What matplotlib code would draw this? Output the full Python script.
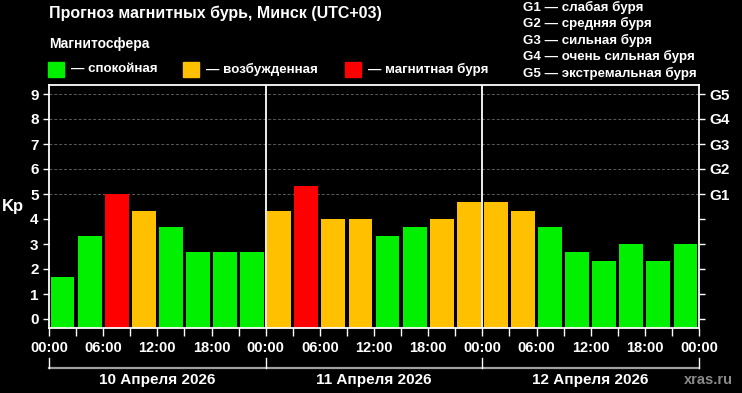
import matplotlib
matplotlib.use("Agg")
import matplotlib.pyplot as plt
import matplotlib.transforms as mtransforms
from matplotlib.patches import Rectangle

# Kp forecast, 3-hour slots, three days
kp_day1 = [1.67, 3.33, 5.00, 4.33, 3.67, 2.67, 2.67, 2.67]
kp_day2 = [4.33, 5.33, 4.00, 4.00, 3.33, 3.67, 4.00, 4.67]
kp_day3 = [4.67, 4.33, 3.67, 2.67, 2.33, 3.00, 2.33, 3.00]
kp = kp_day1 + kp_day2 + kp_day3

dates = ["10 Апреля 2026", "11 Апреля 2026", "12 Апреля 2026"]
hour_labels = ["00:00", "06:00", "12:00", "18:00"] * 3 + ["00:00"]
g_labels = ["G1", "G2", "G3", "G4", "G5"]
g_legend = ["G1 — слабая буря", "G2 — средняя буря", "G3 — сильная буря",
            "G4 — очень сильная буря", "G5 — экстремальная буря"]

GREEN, ORANGE, RED = "#00f000", "#ffc000", "#ff0000"


def kp_color(v):
    if v >= 5:
        return RED
    if v >= 4:
        return ORANGE
    return GREEN


plt.rcParams["font.family"] = ["Liberation Sans", "DejaVu Sans"]
plt.rcParams["font.weight"] = "bold"

fig = plt.figure(figsize=(7.42, 3.93), dpi=100, facecolor="black")
ax = fig.add_axes([49 / 742, 1 - 328 / 393, 650 / 742, 243 / 393])
ax.set_facecolor("black")

ymin, ymax = -0.36, 9.36
ax.set_xlim(0, 24)
ax.set_ylim(ymin, ymax)

# grid only at the storm levels
for g in range(5, 10):
    ax.axhline(g, color="#5a5a5a", lw=0.7, ls=(0, (3, 2)), zorder=1)

xs = [i + 0.5 for i in range(len(kp))]
heights = [v - ymin for v in kp]
ax.bar(xs, heights, bottom=ymin, width=0.88,
       color=[kp_color(v) for v in kp], zorder=2)

# day separators
for d in (8, 16):
    ax.axvline(d, color="white", lw=1.3, zorder=3)

for s in ax.spines.values():
    s.set_color("white")
    s.set_linewidth(1.3)

# y axis: Kp on the left, G levels on the right
ax.set_yticks(range(10))
ax.tick_params(axis="y", colors="white", labelsize=11, length=4, width=1, direction="out")
ax.set_ylabel("Kp", color="white", fontsize=12, fontweight="bold", rotation=0, labelpad=12, va="center")

ax2 = ax.twinx()
ax2.set_ylim(ymin, ymax)
ax2.set_yticks(range(10))
ax2.set_yticklabels([""] * 5 + g_labels)
ax2.tick_params(axis="y", colors="white", labelsize=11, length=4, width=1, direction="out")
for s in ax2.spines.values():
    s.set_visible(False)

# x axis: ticks each 3 h, labels each 6 h
ax.set_xticks(range(0, 25, 2))
ax.set_xticklabels(hour_labels)
ax.set_xticks(range(1, 24, 2), minor=True)
ax.tick_params(axis="x", which="both", colors="white", length=6, width=1, direction="out", labelsize=10.5, pad=3)

# date brackets under the axis
trans = mtransforms.blended_transform_factory(ax.transData, ax.transAxes)
ax.plot([0, 24], [-0.165, -0.165], color="#a0a0a0", lw=1.6, transform=trans, clip_on=False)
for d in (0, 8, 16, 24):
    ax.plot([d, d], [-0.165, -0.125], color="white", lw=1, transform=trans, clip_on=False)
for i, label in enumerate(dates):
    ax.text(i * 8 + 4, -0.215, label, transform=trans, ha="center", va="center",
            color="white", fontsize=11, fontweight="bold")

fig.text(733 / 742, 1 - 380 / 393, "xras.ru", ha="right", va="center", color="#8a8a8a", fontsize=10.5)

# title and magnetosphere legend
fig.text(49 / 742, 1 - 13 / 393, "Прогноз магнитных бурь, Минск (UTC+03)",
         ha="left", va="center", color="white", fontsize=11.5, fontweight="bold")
fig.text(49 / 742, 1 - 44 / 393, "Магнитосфера", ha="left", va="center",
         color="white", fontsize=10, fontweight="bold")
legend_items = [(48, GREEN, "— спокойная"), (183, ORANGE, "— возбужденная"), (345, RED, "— магнитная буря")]
for x0, c, label in legend_items:
    fig.patches.append(Rectangle((x0 / 742, 1 - 77 / 393), 16 / 742, 15 / 393,
                                 transform=fig.transFigure, color=c))
    fig.text((x0 + 23) / 742, 1 - 69 / 393, label, ha="left", va="center",
             color="white", fontsize=9.6, fontweight="bold")

for i, label in enumerate(g_legend):
    fig.text(523 / 742, 1 - (7 + 16.5 * i) / 393, label, ha="left", va="center",
             color="white", fontsize=9.6, fontweight="bold")

fig.savefig("out.png", dpi=100, facecolor="black")
